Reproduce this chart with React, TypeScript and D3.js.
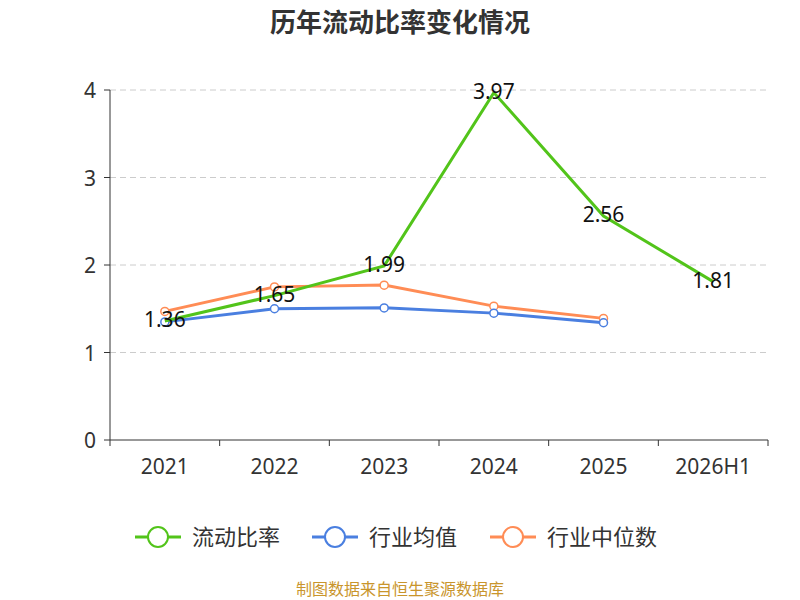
import * as d3 from "d3";

const categories = ["2021", "2022", "2023", "2024", "2025", "2026H1"];
const currentRatio = [1.36, 1.65, 1.99, 3.97, 2.56, 1.81];
const industryMean = [1.35, 1.5, 1.51, 1.45, 1.34];
const industryMedian = [1.47, 1.75, 1.77, 1.53, 1.39];
const yTicks = [0, 1, 2, 3, 4];

const W = 800, H = 600;
const L = 110, R = 768, T = 90, B = 440;
const font = "'Noto Sans', 'Noto Sans CJK SC', sans-serif";

export default function App() {
  const x = d3.scaleBand<string>().domain(categories).range([L, R]);
  const y = d3.scaleLinear().domain([0, 4]).range([B, T]);
  const cx = (c: string) => (x(c) ?? 0) + x.bandwidth() / 2;
  const line = d3.line<[string, number]>().x((d) => cx(d[0])).y((d) => y(d[1]));
  const series = [
    { name: "流动比率", color: "#52c41a", data: currentRatio, dots: false },
    { name: "行业均值", color: "#4a7fe0", data: industryMean, dots: true },
    { name: "行业中位数", color: "#ff8c55", data: industryMedian, dots: true },
  ];
  const legendX = [135, 312, 490];
  return (
    <svg width={W} height={H} style={{ position: "absolute", left: 0, top: 0, fontFamily: font }}>
      <rect width={W} height={H} fill="#fff" />
      <text x={400} y={32} textAnchor="middle" fontSize={26} fontWeight="bold" fill="#333">历年流动比率变化情况</text>
      {yTicks.map((t) => (
        <g key={t}>
          {t > 0 && <line x1={L} x2={R} y1={y(t)} y2={y(t)} stroke="#ccc" strokeDasharray="6,4" />}
          <line x1={L - 6} x2={L} y1={y(t)} y2={y(t)} stroke="#333" />
          <text x={L - 14} y={y(t) + 8} textAnchor="end" fontSize={21} fill="#333">{t}</text>
        </g>
      ))}
      <line x1={L} x2={L} y1={T} y2={B} stroke="#333" />
      <line x1={L} x2={R} y1={B} y2={B} stroke="#333" />
      {categories.map((c, i) => (
        <g key={c}>
          <line x1={x(c)!} x2={x(c)!} y1={B} y2={B + 6} stroke="#333" />
          {i === categories.length - 1 && <line x1={R} x2={R} y1={B} y2={B + 6} stroke="#333" />}
          <text x={cx(c)} y={474} textAnchor="middle" fontSize={21} fill="#333">{c}</text>
        </g>
      ))}
      {series.slice().reverse().map((s) => (
        <g key={s.name}>
          <path d={line(s.data.map((v, i) => [categories[i], v]))!} fill="none" stroke={s.color} strokeWidth={3} />
          {s.dots && s.data.map((v, i) => (
            <circle key={i} cx={cx(categories[i])} cy={y(v)} r={4} fill="#fff" stroke={s.color} strokeWidth={1.5} />
          ))}
        </g>
      ))}
      {currentRatio.map((v, i) => (
        <text key={i} x={cx(categories[i])} y={y(v) + 6} textAnchor="middle" fontSize={21} fill="#111">{v.toFixed(2)}</text>
      ))}
      {series.map((s, i) => (
        <g key={s.name} transform={`translate(${legendX[i]},537)`}>
          <line x1={0} x2={46} y1={0} y2={0} stroke={s.color} strokeWidth={3} />
          <circle cx={23} cy={0} r={10} fill="#fff" stroke={s.color} strokeWidth={2} />
          <text x={57} y={8} fontSize={22} fill="#333">{s.name}</text>
        </g>
      ))}
      <text x={400} y={595} textAnchor="middle" fontSize={16} fill="#c9952c">制图数据来自恒生聚源数据库</text>
    </svg>
  );
}
